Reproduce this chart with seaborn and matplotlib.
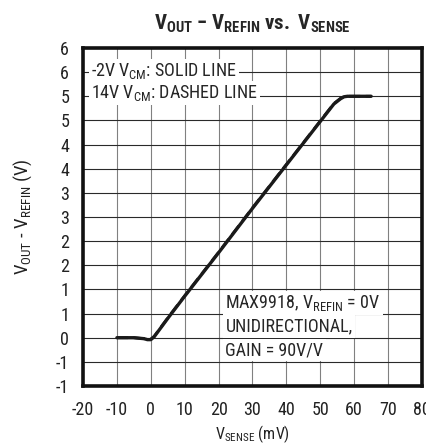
import matplotlib
matplotlib.use("Agg")
import matplotlib.pyplot as plt
from matplotlib import font_manager
import seaborn as sns
import pandas as pd

# VSENSE (mV) vs VOUT - VREFIN (V)
vsense_solid = [-10, -5, -2, -1, 0, 1, 5, 10, 20, 30, 40, 50, 54, 56, 57, 58, 60, 65]
vout_solid = [0.0, 0.0, -0.02, -0.04, -0.04, 0.02, 0.40, 0.86, 1.76, 2.68, 3.58, 4.48, 4.84, 4.95, 4.99, 5.0, 5.0, 5.0]
vsense_dash = [-10, -5, -2, -1, 0, 1, 5, 10, 20, 30, 40, 50, 54, 56, 57, 58, 60, 65]
vout_dash = [0.0, 0.0, -0.02, -0.04, -0.03, 0.03, 0.41, 0.87, 1.77, 2.69, 3.59, 4.49, 4.85, 4.96, 4.99, 5.0, 5.0, 5.0]

xticks = [-20, -10, 0, 10, 20, 30, 40, 50, 60, 70, 80]
yticks = [-1, -0.5, 0, 0.5, 1, 1.5, 2, 2.5, 3, 3.5, 4, 4.5, 5, 5.5, 6]
ytick_labels = ["-1", "-1", "0", "1", "1", "2", "2", "3", "3", "4", "4", "5", "5", "6", "6"]

# the original uses a condensed Helvetica, take the narrowest sans we have
names = sorted(set(f.name for f in font_manager.fontManager.ttflist))
fam = "Liberation Sans"
for cand in ["Liberation Sans Narrow", "Roboto Condensed", "Open Sans Condensed", "DejaVu Sans Condensed"]:
    if cand in names:
        fam = cand
        break
else:
    narrow = [n for n in names if ("Narrow" in n or "Condensed" in n) and "Serif" not in n and "Mono" not in n]
    if narrow:
        fam = narrow[0]

sns.set_style("white")
plt.rcParams["font.family"] = [fam, "Liberation Sans", "DejaVu Sans"]
plt.rcParams["font.stretch"] = "condensed"
plt.rcParams["axes.unicode_minus"] = False
plt.rcParams["mathtext.fontset"] = "custom"
plt.rcParams["mathtext.rm"] = fam
plt.rcParams["mathtext.bf"] = fam + ":bold"

fig = plt.figure(figsize=(4.27, 4.44), dpi=100)
ax = fig.add_axes([83 / 427, 58 / 444, 339 / 427, 338 / 444])

df1 = pd.DataFrame({"x": vsense_solid, "y": vout_solid})
df2 = pd.DataFrame({"x": vsense_dash, "y": vout_dash})
sns.lineplot(data=df1, x="x", y="y", ax=ax, color="#1a1a1a", lw=2.4, zorder=4)
sns.lineplot(data=df2, x="x", y="y", ax=ax, color="#1a1a1a", lw=2.0, ls=(0, (4, 2)), zorder=4)

ax.set_xlim(-20, 80)
ax.set_ylim(-1, 6)
ax.set_xticks(xticks)
ax.set_xticklabels([str(t) for t in xticks])
ax.set_yticks(yticks)
ax.set_yticklabels(ytick_labels)
ax.tick_params(length=0, labelsize=13, colors="#222222")
ax.tick_params(axis="y", pad=10)
ax.tick_params(axis="x", pad=11)

for t in xticks:
    ax.axvline(t, color="#808080", lw=0.8, zorder=1)
for t in yticks:
    ax.axhline(t, color="#2a2a2a", lw=0.8, zorder=1)

for s in ax.spines.values():
    s.set_linewidth(2.6)
    s.set_color("#111111")
    s.set_zorder(6)

ax.set_xlabel(r"$\mathrm{V_{SENSE}}$ (mV)", fontsize=11.5, labelpad=3, color="#222222")
ax.set_ylabel(r"$\mathrm{V_{OUT}}$ - $\mathrm{V_{REFIN}}$ (V)", fontsize=13.5, labelpad=16, color="#222222")
ax.set_title(r"$\mathbf{V_{OUT}}$ $\mathbf{-}$ $\mathbf{V_{REFIN}}$ $\mathbf{vs.}$ $\mathbf{V_{SENSE}}$",
             fontsize=15, fontweight="bold", pad=13)

box = dict(facecolor="white", edgecolor="none", pad=1.5)
ax.text(-17.5, 5.52, r"-2V $\mathrm{V_{CM}}$: SOLID LINE", fontsize=13, va="center", ha="left", bbox=box, zorder=5)
ax.text(-17.5, 5.07, r"14V $\mathrm{V_{CM}}$: DASHED LINE", fontsize=13, va="center", ha="left", bbox=box, zorder=5)
ax.text(22, 0.72, r"MAX9918, $\mathrm{V_{REFIN}}$ = 0V", fontsize=13, va="center", ha="left", bbox=box, zorder=5)
ax.text(22, 0.23, "UNIDIRECTIONAL,", fontsize=13, va="center", ha="left", bbox=box, zorder=5)
ax.text(22, -0.26, "GAIN = 90V/V", fontsize=13, va="center", ha="left", bbox=box, zorder=5)

fig.savefig("out.png", dpi=100)
